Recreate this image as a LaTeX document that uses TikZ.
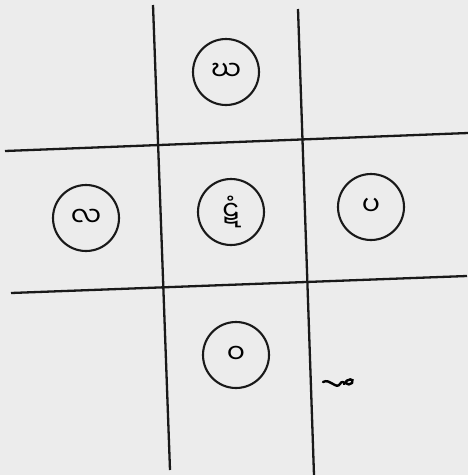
\documentclass[tikz,border=0pt]{standalone}
\usepackage{fontspec}
\newfontfamily\mya[Script=Myanmar]{Noto Sans Myanmar UI}
\begin{document}
\begin{tikzpicture}[x=1pt,y=-1pt,
  gridline/.style={line width=2.3pt,black!90},
  ring/.style={circle,draw=black!90,line width=2.1pt,minimum size=66pt,inner sep=0pt,font=\mya\fontsize{27}{27}\selectfont}]
\fill[gray!15] (0,0) rectangle (468,475);
\useasboundingbox (0,0) rectangle (468,475);
% grid lines
\coordinate (v1a) at (153,5); \coordinate (v1b) at (170,470);
\coordinate (v2a) at (298,9); \coordinate (v2b) at (314,475);
\coordinate (h1a) at (5,151); \coordinate (h1b) at (468,133);
\coordinate (h2a) at (11,293); \coordinate (h2b) at (467,276);
\draw[gridline] (v1a) -- (v1b);
\draw[gridline] (v2a) -- (v2b);
\draw[gridline] (h1a) -- (h1b);
\draw[gridline] (h2a) -- (h2b);
% circles
\node[ring] (top) at (226,72) {ဃ};
\node[ring] (left) at (86,218) {လ};
\node[ring] (mid) at (231,212) {ဋံ};
\node[ring] (right) at (371,207) {ပ};
\node[ring] (bot) at (236,355) {ဝ};
% scribble
\draw[line width=2.4pt,line cap=round] (323,382) .. controls (330,378) and (336,390) .. (340,384) .. controls (343,378) and (348,388) .. (352,383) .. controls (355,378) and (347,378) .. (344,384);
\end{tikzpicture}
\end{document}
